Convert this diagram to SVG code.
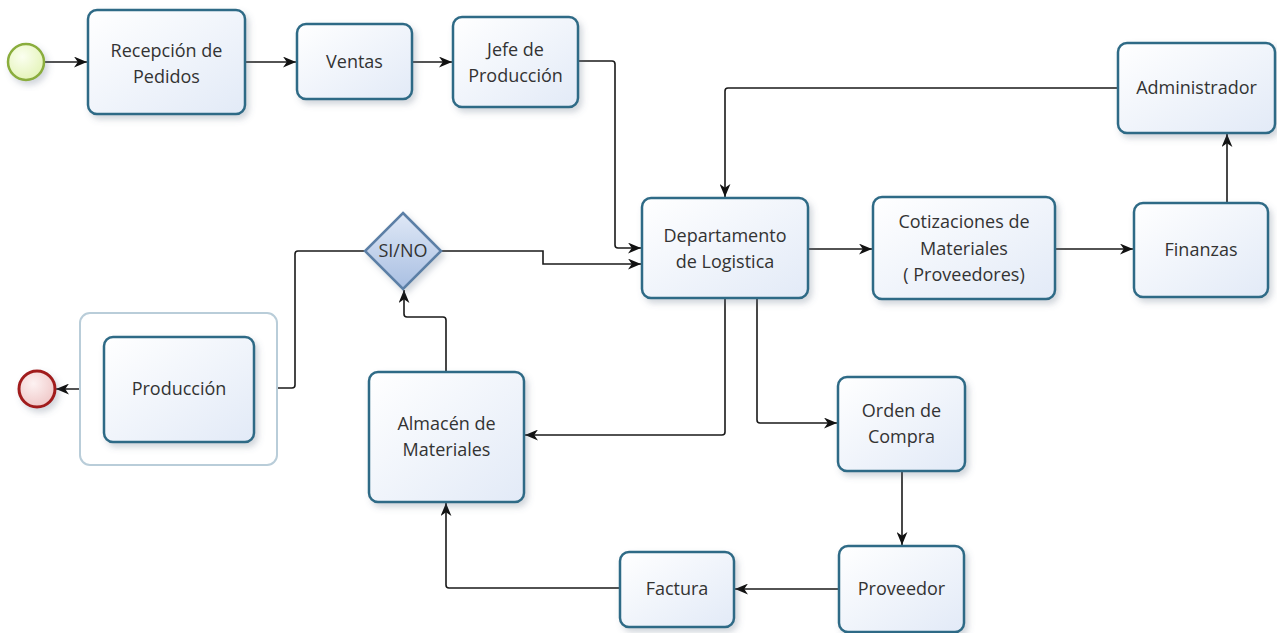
<svg xmlns="http://www.w3.org/2000/svg" width="1277" height="633" viewBox="0 0 1277 633">
<defs>
  <linearGradient id="gNode" x1="0" y1="0" x2="1" y2="1">
    <stop offset="0" stop-color="#ffffff"/>
    <stop offset="1" stop-color="#e2eaf7"/>
  </linearGradient>
  <linearGradient id="gDia" x1="0" y1="0" x2="0" y2="1">
    <stop offset="0" stop-color="#dfe8f6"/>
    <stop offset="1" stop-color="#a9bfe2"/>
  </linearGradient>
  <radialGradient id="gStart" cx="0.4" cy="0.35" r="0.7">
    <stop offset="0" stop-color="#fbfff0"/>
    <stop offset="1" stop-color="#e3f3b6"/>
  </radialGradient>
  <radialGradient id="gEnd" cx="0.4" cy="0.35" r="0.7">
    <stop offset="0" stop-color="#fdf2f2"/>
    <stop offset="1" stop-color="#efc6c6"/>
  </radialGradient>
  <filter id="sh" x="-20%" y="-20%" width="150%" height="150%">
    <feDropShadow dx="3" dy="4" stdDeviation="3" flood-color="#5a6b80" flood-opacity="0.28"/>
  </filter>
  <marker id="arr" viewBox="0 0 12 10" markerUnits="userSpaceOnUse" markerWidth="13" markerHeight="11" refX="12" refY="5" orient="auto">
    <path d="M0,0 L12,5 L0,10 L3.5,5 z" fill="#111"/>
  </marker>
  <style>
    .node{fill:url(#gNode);stroke:#2f6b86;stroke-width:2.5;filter:url(#sh)}
    .lbl{font-family:"Open Sans","Noto Sans","DejaVu Sans",sans-serif;font-size:18px;fill:#333;text-anchor:middle}
    .conn{fill:none;stroke:#1a1a1a;stroke-width:1.6;marker-end:url(#arr)}
  </style>
</defs>
<rect width="1277" height="633" fill="#ffffff"/>

<g id="connectors">
  <path class="conn" d="M45,62 H87"/>
  <path class="conn" d="M245,62 H296"/>
  <path class="conn" d="M412,62 H452"/>
  <path class="conn" d="M578,61 H612 Q615,61 615,64 V245 Q615,248 618,248 H641"/>
  <path class="conn" d="M441,251 H543 V264 H641"/>
  <path class="conn" d="M1118,88 H728 Q725,88 725,91 V197"/>
  <path class="conn" d="M808,249 H872"/>
  <path class="conn" d="M1055,249 H1133"/>
  <path class="conn" d="M1227,203 V134"/>
  <path class="conn" d="M725,298 V432 Q725,435 722,435 H525"/>
  <path class="conn" d="M757,298 V420 Q757,423 760,423 H837"/>
  <path class="conn" d="M902,471 V545"/>
  <path class="conn" d="M839,589 H735"/>
  <path class="conn" d="M620,588 H449 Q446,588 446,585 V503"/>
  <path class="conn" d="M446,372 V320 Q446,317 443,317 H407 Q404,317 404,314 V290"/>
  <path class="conn" d="M365,251 H298 Q295,251 295,254 V385 Q295,388 292,388 H255"/>
  <path class="conn" d="M104,389 H56"/>
</g>

<g id="start">
  <circle cx="26" cy="62" r="18" fill="url(#gStart)" stroke="#8aad3c" stroke-width="2.5" filter="url(#sh)"/>
</g>

<g id="recepcion">
  <rect class="node" x="88" y="10" width="157" height="104" rx="9"/>
  <text class="lbl" x="166.5" y="57">Recepción de</text>
  <text class="lbl" x="166.5" y="83">Pedidos</text>
</g>

<g id="ventas">
  <rect class="node" x="297" y="24" width="115" height="75" rx="9"/>
  <text class="lbl" x="354.5" y="68">Ventas</text>
</g>

<g id="jefe">
  <rect class="node" x="453" y="17" width="125" height="90" rx="9"/>
  <text class="lbl" x="515.5" y="56">Jefe de</text>
  <text class="lbl" x="515.5" y="82">Producción</text>
</g>

<g id="administrador">
  <rect class="node" x="1118" y="43" width="157" height="90" rx="9"/>
  <text class="lbl" x="1196.5" y="94">Administrador</text>
</g>

<g id="departamento">
  <rect class="node" x="642" y="198" width="166" height="100" rx="9"/>
  <text class="lbl" x="725" y="242">Departamento</text>
  <text class="lbl" x="725" y="268">de Logistica</text>
</g>

<g id="cotizaciones">
  <rect class="node" x="873" y="197" width="182" height="102" rx="9"/>
  <text class="lbl" x="964" y="228">Cotizaciones de</text>
  <text class="lbl" x="964" y="255">Materiales</text>
  <text class="lbl" x="964" y="281">( Proveedores)</text>
</g>

<g id="finanzas">
  <rect class="node" x="1134" y="203" width="134" height="94" rx="9"/>
  <text class="lbl" x="1201" y="256">Finanzas</text>
</g>

<g id="decision">
  <path d="M403,213 L441,251 L403,289 L365,251 Z" fill="url(#gDia)" stroke="#5b7fa6" stroke-width="2.5" filter="url(#sh)"/>
  <text class="lbl" x="403" y="257">SI/NO</text>
</g>

<g id="produccion">
  <rect x="80" y="313" width="197" height="152" rx="10" fill="#ffffff" stroke="#b9cdd9" stroke-width="2"/>
  <rect class="node" x="104" y="337" width="150" height="105" rx="9"/>
  <text class="lbl" x="179" y="395">Producción</text>
</g>

<g id="end">
  <circle cx="37" cy="389" r="18" fill="url(#gEnd)" stroke="#a11d1d" stroke-width="3" filter="url(#sh)"/>
</g>

<g id="almacen">
  <rect class="node" x="369" y="372" width="155" height="130" rx="9"/>
  <text class="lbl" x="446.5" y="430">Almacén de</text>
  <text class="lbl" x="446.5" y="456">Materiales</text>
</g>

<g id="orden">
  <rect class="node" x="838" y="377" width="127" height="94" rx="9"/>
  <text class="lbl" x="901.5" y="417">Orden de</text>
  <text class="lbl" x="901.5" y="443">Compra</text>
</g>

<g id="proveedor">
  <rect class="node" x="839" y="546" width="125" height="86" rx="9"/>
  <text class="lbl" x="901.5" y="595">Proveedor</text>
</g>

<g id="factura">
  <rect class="node" x="620" y="552" width="114" height="75" rx="9"/>
  <text class="lbl" x="677" y="595">Factura</text>
</g>
</svg>
